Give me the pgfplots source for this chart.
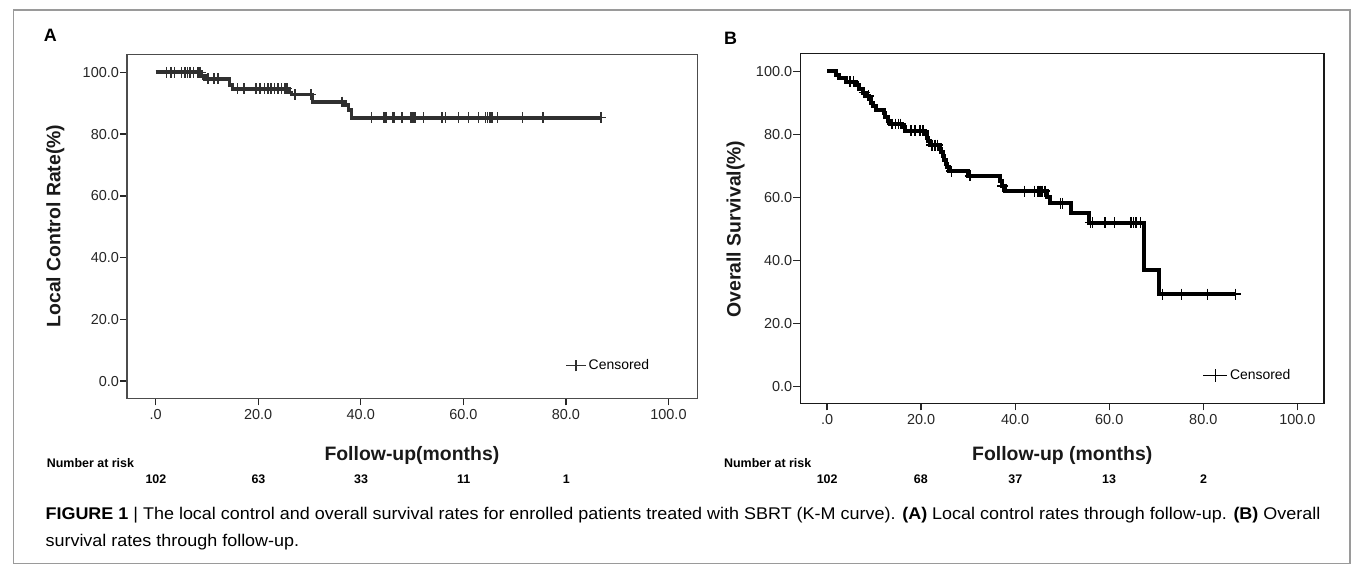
\documentclass[border=0pt]{standalone}
\usepackage{pgfplots}
\pgfplotsset{compat=1.18}
\usepackage{fontspec}
\setmainfont{Liberation Sans}
\usepackage{graphicx}

\definecolor{framegray}{HTML}{9A9A9A}
\definecolor{curveA}{HTML}{303030}

\pgfplotsset{
  km/.style={
    scale only axis, anchor=south west, clip=false,
    axis line style={line width=1.2pt},
    tick align=outside, xtick pos=left, ytick pos=left,
    major tick length=7pt,
    tick style={line width=1.3pt, black!85},
    xtick={0,20,...,100}, ytick={0,20,...,100},
    xticklabels={.0,20.0,40.0,60.0,80.0,100.0},
    yticklabels={0.0,20.0,40.0,60.0,80.0,100.0},
    /pgf/number format/assume math mode=true,
    ticklabel style={font=\fontsize{14.5}{16}\selectfont, text=black!85},
    xticklabel style={inner sep=1pt, yshift=-3pt},
    yticklabel style={inner sep=1pt},
    legend style={draw=none, fill=none, inner sep=0pt, anchor=west,
      font=\fontsize{14}{16}\selectfont, legend cell align=left},
  },
  censor/.style={only marks, mark=+, mark size=5.5pt,
    mark options={line width=1.5pt}},
}

\newsavebox\capone
\newsavebox\captwo

\begin{document}
\sbox\capone{\fontsize{17}{20}\selectfont\textbf{FIGURE 1} | The local control and overall survival rates for enrolled patients treated with SBRT (K-M curve). \textbf{(A)} Local control rates through follow-up. \textbf{(B)} Overall}
\sbox\captwo{\fontsize{17}{20}\selectfont survival rates through follow-up.}
\begin{tikzpicture}
\useasboundingbox (0,0) rectangle (1357pt,-569pt);
\draw[framegray, line width=1.2pt] (8pt,-10pt) rectangle (1350pt,-566pt);

% ---- panel A: local control
\begin{axis}[km,
  at={(122pt,-400pt)}, width=573pt, height=345pt,
  xmin=-5.57, xmax=105.7, ymin=-5.6, ymax=105.7,
  axis line style={line width=1.2pt, black!70},
  legend style={at={(0.768,0.0957)}},
  legend image code/.code={\draw[line width=1.3pt] (0pt,0pt)--(20pt,0pt) (10pt,-6pt)--(10pt,6pt);},
]
\addplot[const plot, line width=3.8pt, curveA, forget plot] coordinates {
  (0,100) (8.9,98.9) (9.6,97.9) (14.4,96.0) (15.0,94.7) (26.1,93.5)
  (26.5,92.8) (30.6,90.4) (36.9,89.4) (37.6,87.7) (38.2,85.3) (86.8,85.3)
};
\addplot[censor, curveA] coordinates {
  (2.1,100) (3.0,100) (3.7,100) (5.0,100) (5.7,100) (6.2,100) (6.7,100)
  (7.4,100) (8.3,100) (8.7,100)
  (10.2,97.9) (11.4,97.9) (12.2,97.9)
  (16.0,94.7) (17.2,94.7) (19.6,94.7) (20.4,94.7) (21.2,94.7) (21.9,94.7)
  (22.5,94.7) (23.2,94.7) (23.9,94.7) (24.5,94.7) (25.2,94.7) (25.6,94.7)
  (27.2,92.8) (30.3,92.8) (36.3,90.4)
  (42.1,85.3) (44.4,85.3) (44.7,85.3) (45.0,85.3) (46.3,85.3) (46.6,85.3)
  (48.0,85.3) (49.7,85.3) (50.0,85.3) (50.3,85.3) (50.6,85.3) (52.2,85.3)
  (55.8,85.3) (56.5,85.3) (59.1,85.3) (61.0,85.3) (63.0,85.3) (64.3,85.3)
  (64.7,85.3) (65.2,85.3) (65.6,85.3) (66.7,85.3) (71.5,85.3) (75.5,85.3)
  (86.8,85.3)
};
\addlegendentry{Censored}
\end{axis}

% ---- panel B: overall survival
\begin{axis}[km,
  at={(798pt,-405pt)}, width=526pt, height=351pt,
  xmin=-5.7, xmax=105.7, ymin=-5.4, ymax=105.6,
  axis line style={line width=1.4pt, black!90},
  legend style={at={(0.768,0.0798)}},
  legend image code/.code={\draw[line width=1.3pt] (0pt,0pt)--(24pt,0pt) (12pt,-6.5pt)--(12pt,6.5pt);},
]
\addplot[const plot, line width=4pt, black, forget plot] coordinates {
  (0,100) (1.8,99.0) (2.5,97.8) (4.0,96.7) (6.2,95.6) (6.8,94.4) (7.6,93.3)
  (8.3,92.2) (9.0,91.1) (9.4,90.0) (9.7,88.9) (10.4,87.8) (12.0,86.7)
  (12.4,85.6) (12.9,84.4) (13.3,83.3) (16.0,82.2) (16.6,81.1) (20.8,80.0)
  (21.2,78.9) (21.5,77.8) (21.9,76.6) (24.0,75.5) (24.3,74.3) (24.6,73.1)
  (24.9,71.9) (25.2,70.7) (25.6,69.5) (26.0,68.3) (30.0,66.8) (36.8,65.2)
  (37.2,63.6) (37.8,62.0) (46.8,60.1) (47.3,58.1) (51.9,55.0) (55.8,52.0)
  (67.4,37.0) (70.6,29.3) (86.9,29.3)
};
\addplot[censor, black] coordinates {
  (4.9,96.7) (5.6,96.7) (7.9,93.3) (8.8,92.2)
  (13.8,83.3) (14.5,83.3) (15.2,83.3) (15.6,83.3)
  (17.8,81.1) (18.7,81.1) (19.8,81.1) (20.4,81.1)
  (22.3,76.6) (22.9,76.6) (23.5,76.6) (26.5,68.3) (30.4,66.8) (37.4,63.6)
  (42.0,62.0) (44.1,62.0) (44.8,62.0) (45.3,62.0) (45.7,62.0) (46.3,62.0)
  (49.6,58.1) (50.1,58.1)
  (56.0,52.0) (56.4,52.0) (59.1,52.0) (61.1,52.0) (64.6,52.0) (65.2,52.0)
  (65.7,52.0) (66.7,52.0)
  (71.3,29.3) (75.4,29.3) (80.9,29.3) (86.9,29.3)
};
\addlegendentry{Censored}
\end{axis}

% ---- panel letters and axis titles
\node[font=\bfseries\fontsize{18}{20}\selectfont] at (45pt,-35pt) {A};
\node[font=\bfseries\fontsize{18}{20}\selectfont] at (728pt,-38pt) {B};
\node[rotate=90, font=\bfseries\fontsize{19.5}{22}\selectfont, text=black!90] at (50pt,-227pt) {Local Control Rate(\%)};
\node[rotate=90, font=\bfseries\fontsize{19.5}{22}\selectfont, text=black!90] at (733pt,-230pt) {Overall Survival(\%)};
\node[anchor=base, font=\bfseries\fontsize{19.5}{22}\selectfont, text=black!90] at (408pt,-462pt) {Follow-up(months)};
\node[anchor=base, font=\bfseries\fontsize{19.5}{22}\selectfont, text=black!90] at (1061pt,-462pt) {Follow-up (months)};

% ---- number at risk
\begin{scope}[every node/.style={font=\bfseries\fontsize{12.5}{14}\selectfont}]
\node[anchor=west] at (38pt,-465pt) {Number at risk};
\node at (151pt,-481pt) {102};
\node at (254pt,-481pt) {63};
\node at (357pt,-481pt) {33};
\node at (460pt,-481pt) {11};
\node at (563pt,-481pt) {1};
\node[anchor=west] at (718pt,-465pt) {Number at risk};
\node at (825pt,-481pt) {102};
\node at (919pt,-481pt) {68};
\node at (1014pt,-481pt) {37};
\node at (1108pt,-481pt) {13};
\node at (1203pt,-481pt) {2};
\end{scope}

% ---- caption
\pgfmathsetmacro\capsc{1280pt/\wd\capone}
\node[anchor=base west, inner sep=0pt, text=black!85] at (40pt,-522pt) {\scalebox{\capsc}[1]{\usebox\capone}};
\node[anchor=base west, inner sep=0pt, text=black!85] at (40pt,-549pt) {\scalebox{\capsc}[1]{\usebox\captwo}};
\end{tikzpicture}
\end{document}
